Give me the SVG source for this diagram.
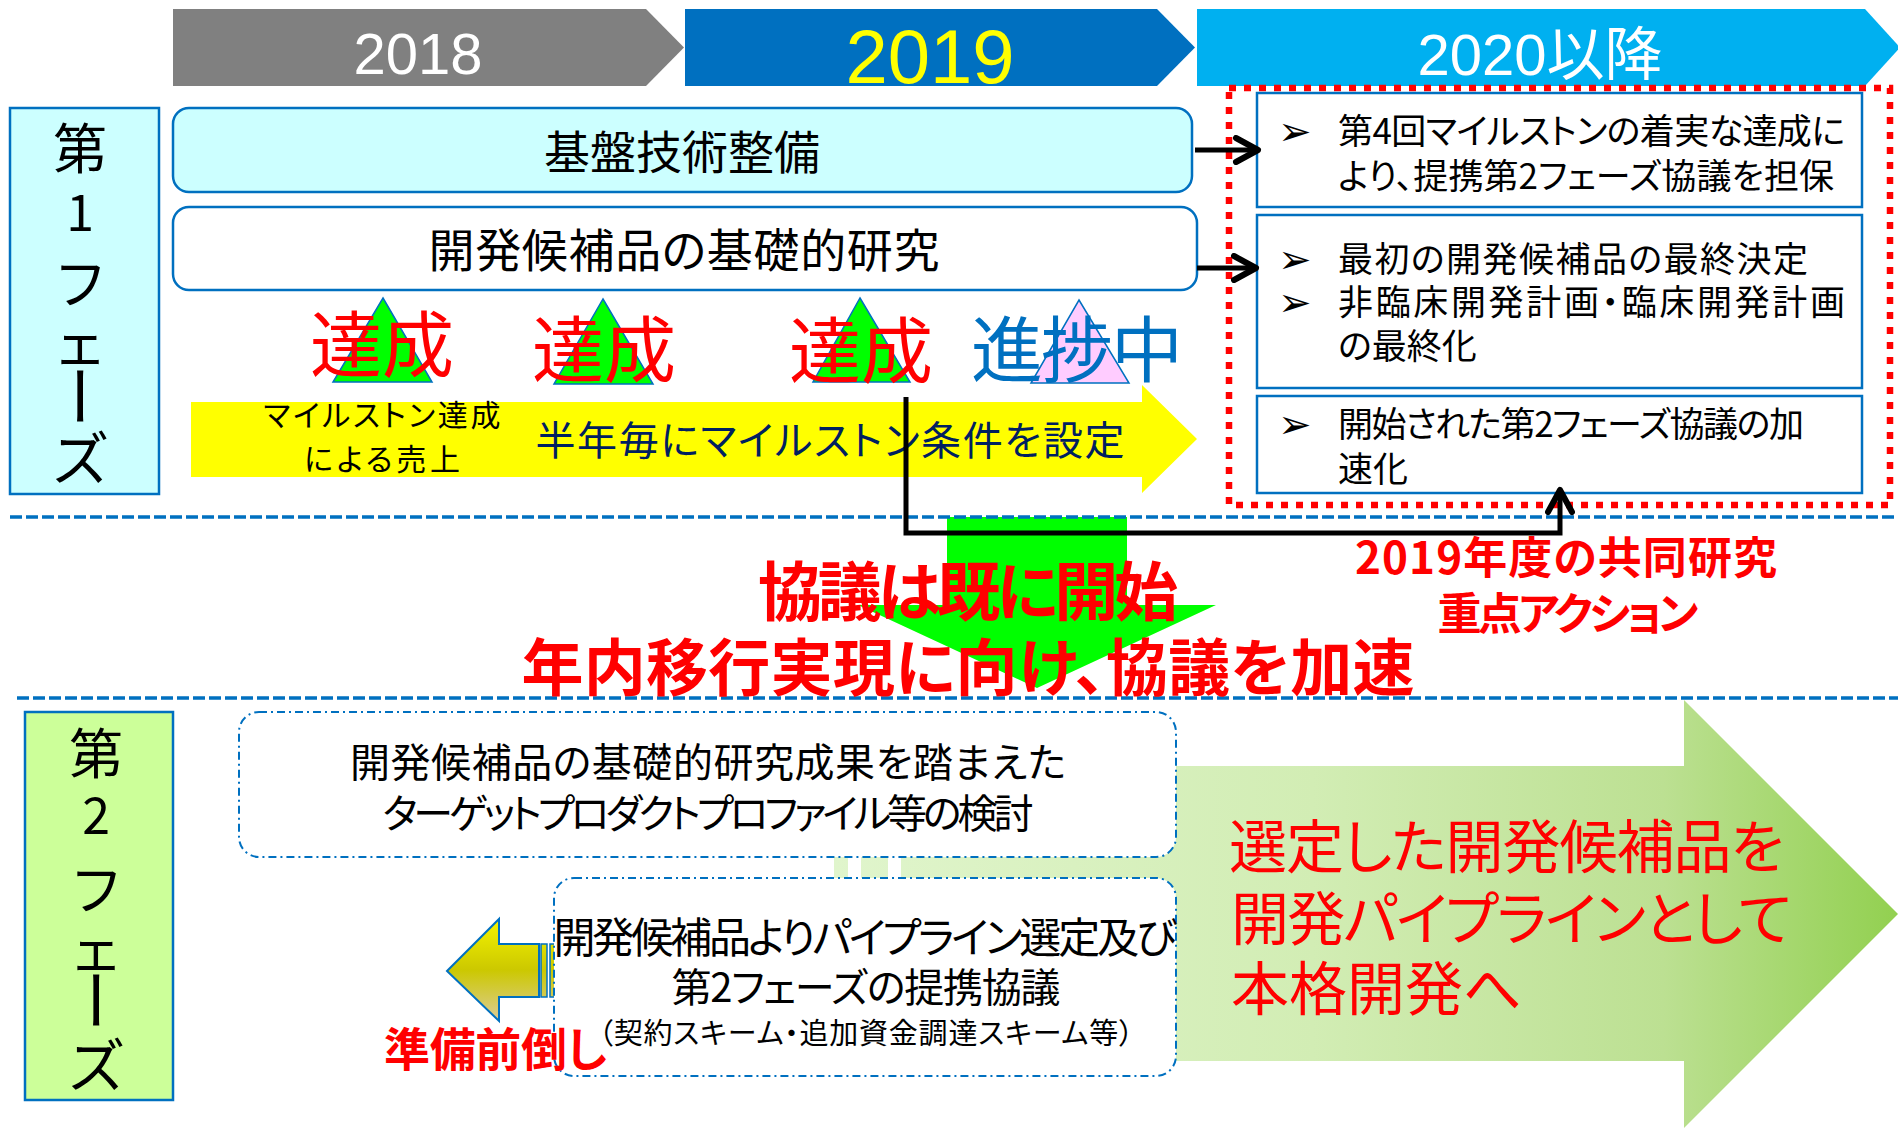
<svg xmlns="http://www.w3.org/2000/svg" width="1898" height="1128" viewBox="0 0 1898 1128">
<style>
.t{font-family:"Noto Sans CJK JP","Noto Sans CJK SC",sans-serif;font-feature-settings:"palt" 1;}
.lat{font-family:"Liberation Sans","Noto Sans CJK JP",sans-serif;}
.b{font-weight:bold;}
.red{fill:#FF0000;}
.blk{fill:#000;}
.box{stroke:#0070C0;stroke-width:2.5;}
.dd{fill:#fff;stroke:#0070C0;stroke-width:2;stroke-dasharray:8 4 2 4;}
.tri{stroke:#0070C0;stroke-width:1.5;}
.sep{stroke:#0070C0;stroke-width:3.5;stroke-dasharray:12 4;fill:none;}
.conn{stroke:#000;stroke-width:5;fill:none;}
.bul{font-family:"DejaVu Sans",sans-serif;font-size:40px;fill:#000;}
</style>
<defs>
<marker id="arr" viewBox="0 0 30 30" refX="26" refY="15" markerWidth="30" markerHeight="30" markerUnits="userSpaceOnUse" orient="auto">
<path d="M4,3 L26,15 L4,27" fill="none" stroke="#000" stroke-width="6" stroke-linecap="round" stroke-linejoin="round"/>
</marker>
<linearGradient id="gbig" gradientUnits="userSpaceOnUse" x1="834" y1="0" x2="1898" y2="0">
<stop offset="0" stop-color="#E0F5CC"/>
<stop offset="0.45" stop-color="#D2EDB4"/>
<stop offset="0.78" stop-color="#BCE092"/>
<stop offset="1" stop-color="#92D050"/>
</linearGradient>
<linearGradient id="gyel" gradientUnits="userSpaceOnUse" x1="0" y1="919" x2="0" y2="1021">
<stop offset="0" stop-color="#F4F400"/>
<stop offset="0.5" stop-color="#CCC800"/>
<stop offset="1" stop-color="#DCCC98"/>
</linearGradient>
</defs>

<!-- Year banners -->
<g id="banner-2018">
<polygon points="173,9 646,9 684,47.5 646,86 173,86" fill="#808080"/>
<text class="lat" x="418" y="74" font-size="58" fill="#fff" text-anchor="middle">2018</text>
</g>
<g id="banner-2019">
<polygon points="685,9 1157,9 1195,47.5 1157,86 685,86" fill="#0070C0"/>
<text class="lat" x="930" y="83" font-size="76" fill="#FFFF00" text-anchor="middle">2019</text>
</g>
<g id="banner-2020">
<polygon points="1197,9 1865,9 1900,47.5 1865,86 1197,86" fill="#00B0F0"/>
<text x="1540" y="75" fill="#fff" text-anchor="middle"><tspan class="lat" font-size="58">2020</tspan><tspan class="t" font-size="58">以降</tspan></text>
</g>

<!-- Phase 1 label -->
<g id="phase1">
<rect x="10" y="108" width="149" height="386" fill="#CCFFFF" class="box"/>
<g class="t blk" text-anchor="middle">
<text x="80" y="169" font-size="54">第</text>
<text x="80" y="231" font-size="50">1</text>
<text x="80" y="304" font-size="54">フ</text>
<text x="80" y="364" font-size="54">ェ</text>
<text x="80" y="420" font-size="64" transform="rotate(90 80 396)">ー</text>
<text x="80" y="480" font-size="58">ズ</text>
</g>
</g>

<!-- Row boxes -->
<g id="row-kiban">
<rect x="173" y="108" width="1019" height="84" rx="16" fill="#CCFFFF" class="box"/>
<text class="t blk" x="682" y="169" font-size="46" text-anchor="middle">基盤技術整備</text>
</g>
<g id="row-kiso">
<rect x="173" y="207" width="1024" height="83" rx="16" fill="#fff" class="box"/>
<text class="t blk" x="684" y="267" font-size="46" text-anchor="middle" textLength="511" lengthAdjust="spacing">開発候補品の基礎的研究</text>
</g>

<!-- Right panel -->
<g id="panel-2019">
<rect x="1229" y="88" width="661" height="417" fill="none" stroke="#FF0000" stroke-width="6.5" stroke-dasharray="7 8"/>
</g>
<g id="panel-a">
<rect x="1257" y="93" width="605" height="114" fill="#fff" class="box"/>
<text class="bul" x="1278" y="145">➢</text>
<text class="t blk" x="1338" y="144" font-size="35" textLength="507" lengthAdjust="spacing">第4回マイルストンの着実な達成に</text>
<text class="t blk" x="1338" y="189" font-size="35" textLength="496" lengthAdjust="spacing">より、提携第2フェーズ協議を担保</text>
</g>
<g id="panel-b">
<rect x="1257" y="215" width="605" height="173" fill="#fff" class="box"/>
<text class="bul" x="1278" y="273">➢</text>
<text class="bul" x="1278" y="316">➢</text>
<text class="t blk" x="1338" y="272" font-size="35" textLength="470" lengthAdjust="spacing">最初の開発候補品の最終決定</text>
<text class="t blk" x="1338" y="315" font-size="35" textLength="507" lengthAdjust="spacing">非臨床開発計画・臨床開発計画</text>
<text class="t blk" x="1338" y="359" font-size="35">の最終化</text>
</g>
<g id="panel-c">
<rect x="1257" y="396" width="605" height="97" fill="#fff" class="box"/>
<text class="bul" x="1278" y="438">➢</text>
<text class="t blk" x="1338" y="437" font-size="35" textLength="466" lengthAdjust="spacing">開始された第2フェーズ協議の加</text>
<text class="t blk" x="1338" y="482" font-size="35">速化</text>
</g>

<!-- Yellow milestone arrow -->
<g id="milestone-arrow">
<polygon points="191,402 1142,402 1142,385 1197,439 1142,493 1142,477 191,477" fill="#FFFF00"/>
<text class="t blk" x="382" y="426" font-size="30" text-anchor="middle" textLength="237" lengthAdjust="spacing">マイルストン達成</text>
<text class="t blk" x="382" y="470" font-size="30" text-anchor="middle" textLength="156" lengthAdjust="spacing">による売上</text>
<text class="t" x="830" y="455" font-size="40" fill="#002060" text-anchor="middle" textLength="589" lengthAdjust="spacing">半年毎にマイルストン条件を設定</text>
</g>

<!-- Milestones -->
<g id="milestone-1">
<polygon points="383,298 432,382 333,382" fill="#00FF00" class="tri"/>
<text class="t red" x="382" y="371" font-size="72" text-anchor="middle">達成</text>
</g>
<g id="milestone-2">
<polygon points="603,299 653,384 554,384" fill="#00FF00" class="tri"/>
<text class="t red" x="604" y="376" font-size="72" text-anchor="middle">達成</text>
</g>
<g id="milestone-3">
<polygon points="860,298 910,382 813,382" fill="#00FF00" class="tri"/>
<text class="t red" x="861" y="377" font-size="72" text-anchor="middle">達成</text>
</g>
<g id="milestone-4">
<polygon points="1079,300 1129,383 1031,383" fill="#FFCCFF" class="tri"/>
<text class="t" x="1077" y="376" font-size="72" fill="#0070C0" text-anchor="middle" textLength="212" lengthAdjust="spacing">進捗中</text>
</g>

<!-- Green down arrow -->
<g id="down-arrow">
<polygon points="947,517 1127,517 1127,605 1216,605 1037,688 858,605 947,605" fill="#00FF00"/>
</g>

<!-- Separators -->
<g id="separators">
<line x1="10" y1="517" x2="1898" y2="517" class="sep"/>
<line x1="17" y1="698" x2="1898" y2="698" class="sep"/>
</g>

<!-- Connectors -->
<g id="connectors">
<line x1="1195" y1="150" x2="1258" y2="150" class="conn" marker-end="url(#arr)"/>
<line x1="1197" y1="268" x2="1256" y2="268" class="conn" marker-end="url(#arr)"/>
<path d="M906,397 L906,533 L1560,533 L1560,490" class="conn" stroke-linejoin="miter" marker-end="url(#arr)"/>
</g>

<!-- Red messages -->
<g id="msg-kyogi">
<text class="t b red" x="968" y="615" font-size="64" text-anchor="middle" textLength="420" lengthAdjust="spacing">協議は既に開始</text>
<text class="t b red" x="968" y="691" font-size="62" text-anchor="middle" textLength="893" lengthAdjust="spacing">年内移行実現に向け、協議を加速</text>
</g>
<g id="msg-2019">
<text class="t b red" x="1566" y="574" font-size="44" text-anchor="middle" textLength="422" lengthAdjust="spacing">2019年度の共同研究</text>
<text class="t b red" x="1568" y="630" font-size="44" text-anchor="middle" textLength="261" lengthAdjust="spacing">重点アクション</text>
</g>

<!-- Phase 2 label -->
<g id="phase2">
<rect x="25" y="712" width="148" height="388" fill="#CCFF99" class="box"/>
<g class="t blk" text-anchor="middle">
<text x="96" y="774" font-size="54">第</text>
<text x="96" y="834" font-size="50">2</text>
<text x="96" y="910" font-size="54">フ</text>
<text x="96" y="970" font-size="54">ェ</text>
<text x="96" y="1024" font-size="64" transform="rotate(90 96 1000)">ー</text>
<text x="96" y="1087" font-size="58">ズ</text>
</g>
</g>

<!-- Big green arrow -->
<g id="big-arrow">
<rect x="834" y="766" width="14" height="295" fill="url(#gbig)"/>
<rect x="861" y="766" width="27" height="295" fill="url(#gbig)"/>
<polygon points="901,766 1684,766 1684,700 1898,914 1684,1128 1684,1061 901,1061" fill="url(#gbig)"/>
<text class="t red" x="1229" y="868" font-size="58" textLength="555" lengthAdjust="spacing">選定した開発候補品を</text>
<text class="t red" x="1231" y="940" font-size="58" textLength="561" lengthAdjust="spacing">開発パイプラインとして</text>
<text class="t red" x="1231" y="1010" font-size="58">本格開発へ</text>
</g>

<!-- Yellow left arrow -->
<g id="left-arrow">
<polygon points="447,971 499,919 499,944 539,944 539,997 499,997 499,1021" fill="url(#gyel)" stroke="#0070C0" stroke-width="2"/>
<rect x="541" y="944" width="6" height="53" fill="url(#gyel)" stroke="#0070C0" stroke-width="1.5"/>
<rect x="550" y="944" width="5" height="53" fill="url(#gyel)" stroke="#0070C0" stroke-width="1.5"/>
</g>

<!-- Phase 2 boxes -->
<g id="box-tpp">
<rect x="239" y="712" width="937" height="145" rx="20" class="dd"/>
<text class="t blk" x="708" y="777" font-size="40" text-anchor="middle" textLength="716" lengthAdjust="spacing">開発候補品の基礎的研究成果を踏まえた</text>
<text class="t blk" x="708" y="828" font-size="40" text-anchor="middle" textLength="651" lengthAdjust="spacing">ターゲットプロダクトプロファイル等の検討</text>
</g>
<g id="box-pipeline">
<rect x="554" y="878" width="622" height="198" rx="20" class="dd"/>
<text class="t blk" x="865" y="953" font-size="42" text-anchor="middle" textLength="623" lengthAdjust="spacing">開発候補品よりパイプライン選定及び</text>
<text class="t blk" x="866" y="1002" font-size="40" text-anchor="middle" textLength="389" lengthAdjust="spacing">第2フェーズの提携協議</text>
<text class="t blk" x="866" y="1044" font-size="29" text-anchor="middle" textLength="535" lengthAdjust="spacing">（契約スキーム・追加資金調達スキーム等）</text>
</g>
<g id="msg-junbi">
<text class="t b red" x="384" y="1066" font-size="46" textLength="223" lengthAdjust="spacing">準備前倒し</text>
</g>
</svg>
